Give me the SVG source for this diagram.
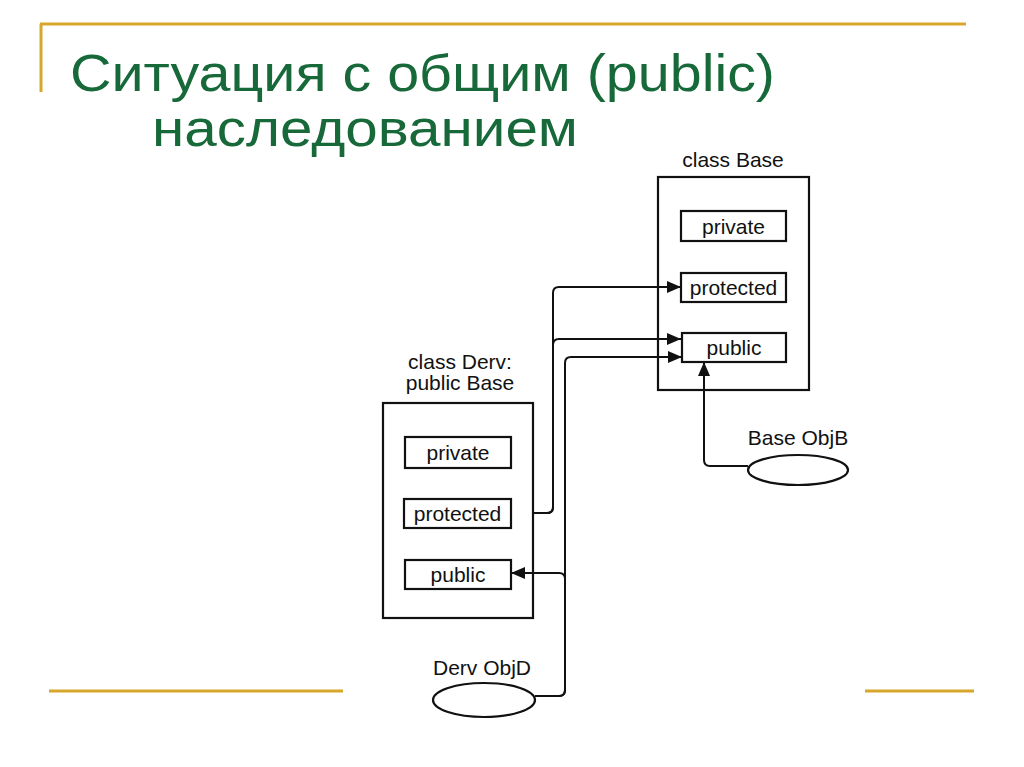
<svg xmlns="http://www.w3.org/2000/svg" width="1024" height="767" viewBox="0 0 1024 767">
<style>
.gold{stroke:#d6a72a;stroke-width:3;fill:none}
.title{font-family:"Liberation Sans","DejaVu Sans",sans-serif;fill:#17693a;font-size:52px}
.box{fill:#fff;stroke:#111;stroke-width:2.2}
.lbl{font-family:"Liberation Sans",Arial,sans-serif;font-size:21px;fill:#111;text-anchor:middle}
.con{fill:none;stroke:#111;stroke-width:2}
</style>
<defs>
<marker id="arr" viewBox="0 0 14 12" refX="14" refY="6" markerWidth="14" markerHeight="12" markerUnits="userSpaceOnUse" orient="auto">
<path d="M0,0 L14,6 L0,12 Z" fill="#111"/>
</marker>
</defs>
<rect width="1024" height="767" fill="#fff"/>
<g id="decor">
<path class="gold" d="M40,24 H966 M41,24 V92"/>
<path class="gold" d="M49,691 H343 M865,691 H974"/>
</g>
<g id="title">
<text class="title" x="70" y="91" textLength="705" lengthAdjust="spacingAndGlyphs">Ситуация с общим (public)</text>
<text class="title" x="152" y="146" textLength="426" lengthAdjust="spacingAndGlyphs">наследованием</text>
</g>
<g id="base">
<text class="lbl" x="733" y="167">class Base</text>
<rect class="box" x="658" y="177" width="151" height="213"/>
<g id="base-private"><rect class="box" x="681" y="211" width="105" height="30"/><text class="lbl" x="733.5" y="234">private</text></g>
<g id="base-protected"><rect class="box" x="681" y="273" width="105" height="29"/><text class="lbl" x="733.5" y="295">protected</text></g>
<g id="base-public"><rect class="box" x="682" y="333" width="104" height="29"/><text class="lbl" x="734" y="355">public</text></g>
</g>
<g id="derv">
<text class="lbl" x="460" y="369">class Derv:</text>
<text class="lbl" x="460" y="390">public Base</text>
<rect class="box" x="383" y="403" width="150" height="215"/>
<g id="derv-private"><rect class="box" x="405" y="437" width="106" height="31"/><text class="lbl" x="458" y="460">private</text></g>
<g id="derv-protected"><rect class="box" x="404" y="499" width="107" height="29"/><text class="lbl" x="457.5" y="521">protected</text></g>
<g id="derv-public"><rect class="box" x="405" y="560" width="106" height="29"/><text class="lbl" x="458" y="582">public</text></g>
</g>
<g id="objB">
<text class="lbl" x="798" y="445">Base ObjB</text>
<ellipse class="box" cx="798" cy="470" rx="50" ry="15"/>
</g>
<g id="objD">
<text class="lbl" x="482" y="675">Derv ObjD</text>
<ellipse class="box" cx="484" cy="700" rx="51" ry="17"/>
</g>
<g id="connectors">
<path class="con" marker-end="url(#arr)" d="M533,513 H547 Q553,513 553,507 V293 Q553,287 559,287 H681"/>
<path class="con" marker-end="url(#arr)" d="M533,513 H547 Q553,513 553,507 V345 Q553,339 559,339 H681"/>
<path class="con" marker-end="url(#arr)" d="M535,696 H559 Q565,696 565,690 V363 Q565,357 571,357 H682"/>
<path class="con" marker-end="url(#arr)" d="M535,696 H559 Q565,696 565,690 V579 Q565,573 559,573 H511"/>
<path class="con" marker-end="url(#arr)" d="M748,466 H710 Q704,466 704,460 V362"/>
</g>
</svg>
